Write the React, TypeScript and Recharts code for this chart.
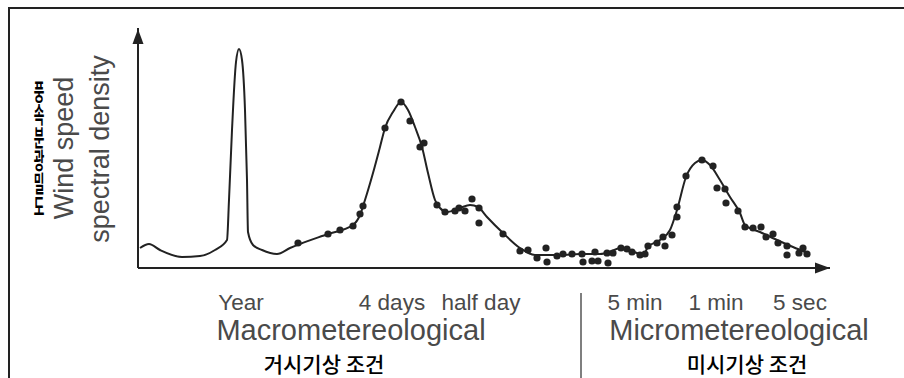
import { ComposedChart, Line, Scatter, XAxis, YAxis, ReferenceLine, ReferenceDot } from 'recharts';

// x = position along the (log) frequency axis, y = spectral density, both
const curveFreq = [2, 11, 22, 44, 62, 77, 89, 91, 94, 98, 101, 104, 107, 109, 110, 115, 124, 139, 152, 162, 190, 215, 222, 227, 235, 242, 247, 255, 263, 270, 277, 284, 290, 297, 302, 309, 322, 332, 340, 349, 365, 382, 397, 409, 422, 442, 462, 474, 482, 494, 505, 510, 522, 532, 539, 548, 557, 564, 572, 582, 592, 602, 607, 622, 639, 655, 670];
const curveDensity = [20, 24, 18, 11, 12, 18, 28, 68, 138, 206, 219, 208, 158, 88, 36, 23, 18, 14, 20, 24, 34, 43, 53, 68, 95, 121, 140, 156, 166, 158, 141, 121, 95, 68, 60, 56, 60, 63, 61, 51, 35, 20, 13, 13, 13, 14, 14, 17, 20, 17, 13, 21, 28, 38, 58, 91, 105, 108, 103, 88, 71, 55, 43, 36, 28, 21, 15];

const dotFreq = [160, 190, 202, 215, 222, 225, 247, 263, 272, 282, 286, 299, 307, 317, 321, 327, 334, 341, 341, 365, 382, 390, 399, 408, 409, 419, 425, 434, 444, 445, 454, 457, 460, 470, 469, 475, 483, 489, 494, 502, 507, 510, 519, 525, 527, 534, 539, 539, 548, 564, 575, 579, 587, 588, 600, 607, 615, 623, 628, 635, 640, 649, 649, 661, 665, 669];
const dotDensity = [25, 34, 38, 42, 54, 62, 140, 166, 147, 121, 125, 63, 56, 57, 60, 57, 69, 60, 45, 34, 17, 18, 10, 20, 6, 12, 14, 14, 14, 6, 7, 16, 7, 5, 15, 15, 20, 19, 16, 13, 14, 22, 25, 31, 22, 33, 51, 61, 92, 108, 102, 80, 79, 65, 57, 41, 40, 41, 31, 34, 25, 22, 13, 15, 20, 14];

const tickFreq = [103, 254, 343, 497, 578, 662];
const tickLabels = ['Year', '4 days', 'half day', '5 min', '1 min', '5 sec'];

const groupLabels = ['Macrometereological', 'Micrometereological'];
const groupLabelsKo = ['거시기상  조건', '미시기상  조건'];
const yLabelLines = ['Wind speed', 'spectral density'];
const yLabelKo = '풍속분광밀도';

const curveData = curveFreq.map((f, i) => ({ f, d: curveDensity[i] }));
const dotData = dotFreq.map((f, i) => ({ f, d: dotDensity[i] }));

const INK = '#222';
const TEXT = '#4a4a4a';
const SANS = '"Liberation Sans", Arial, Helvetica, sans-serif';
const KO = '"Noto Sans CJK KR", sans-serif';

function Tick(props: any) {
  const idx = tickFreq.indexOf(props.payload.value);
  return (
    <text x={props.x} y={310} textAnchor="middle" fontSize={22.5} fill={TEXT} fontFamily={SANS}>
      {tickLabels[idx]}
    </text>
  );
}

const Dot = (p: any) => <circle cx={p.cx} cy={p.cy} r={3.6} fill={INK} />;

const ArrowRight = (p: any) => (
  <polygon points={`${p.cx},${p.cy} ${p.cx - 15},${p.cy - 5.5} ${p.cx - 15},${p.cy + 5.5}`} fill={INK} />
);
const ArrowUp = (p: any) => (
  <polygon points={`${p.cx},${p.cy + 1} ${p.cx - 5.5},${p.cy + 16} ${p.cx + 5.5},${p.cy + 16}`} fill={INK} />
);

export default function App() {
  return (
    <div style={{ position: 'absolute', left: 0, top: 0, width: 904, height: 378, background: '#fff' }}>
      <ComposedChart
        width={904}
        height={378}
        margin={{ top: 28, right: 74, bottom: 80, left: 138 }}
      >
        <XAxis
          type="number"
          dataKey="f"
          domain={[0, 692]}
          allowDataOverflow
          ticks={tickFreq}
          interval={0}
          tickLine={false}
          axisLine={{ stroke: INK, strokeWidth: 2 }}
          tick={<Tick />}
          height={30}
        />
        <YAxis type="number" dataKey="d" domain={[0, 240]} allowDataOverflow hide />
        <ReferenceLine x={0} stroke={INK} strokeWidth={2} />
        <Line
          data={curveData}
          dataKey="d"
          type="monotone"
          stroke={INK}
          strokeWidth={2}
          dot={false}
          isAnimationActive={false}
        />
        <Scatter data={dotData} dataKey="d" shape={<Dot />} isAnimationActive={false} />
        <ReferenceDot x={692} y={0} ifOverflow="visible" shape={<ArrowRight />} />
        <ReferenceDot x={0} y={240} ifOverflow="visible" shape={<ArrowUp />} />
      </ComposedChart>

      <svg
        width={904}
        height={378}
        style={{ position: 'absolute', left: 0, top: 0, pointerEvents: 'none' }}
      >
        {/* frame (top and left edges only) */}
        <line x1={8} y1={8} x2={904} y2={8} stroke={INK} strokeWidth={2} />
        <line x1={9} y1={8} x2={9} y2={378} stroke={INK} strokeWidth={2} />

        {/* y label */}
        <text transform="translate(73,148) rotate(-90)" textAnchor="middle" fontSize={27} fill={TEXT} fontFamily={SANS}>
          {yLabelLines[0]}
        </text>
        <text transform="translate(109,149) rotate(-90)" textAnchor="middle" fontSize={27} fill={TEXT} fontFamily={SANS}>
          {yLabelLines[1]}
        </text>
        <g transform="translate(39,80) scale(0.5,1)">
          <text
            x={0}
            y={0}
            fontSize={23}
            fontWeight={700}
            fill="#000"
            fontFamily={KO}
            style={{ writingMode: 'vertical-rl', textOrientation: 'upright' }}
          >
            {yLabelKo}
          </text>
        </g>

        {/* section labels */}
        <line x1={581} y1={293} x2={581} y2={378} stroke="#555" strokeWidth={1.5} />
        <text x={351} y={340} textAnchor="middle" fontSize={29} fill={TEXT} fontFamily={SANS}>{groupLabels[0]}</text>
        <text x={739} y={340} textAnchor="middle" fontSize={29} fill={TEXT} fontFamily={SANS}>{groupLabels[1]}</text>
        <text x={324} y={372} textAnchor="middle" fontSize={21} fontWeight={500} fill="#000" fontFamily={KO}>{groupLabelsKo[0]}</text>
        <text x={747} y={372} textAnchor="middle" fontSize={21} fontWeight={500} fill="#000" fontFamily={KO}>{groupLabelsKo[1]}</text>
      </svg>
    </div>
  );
}
